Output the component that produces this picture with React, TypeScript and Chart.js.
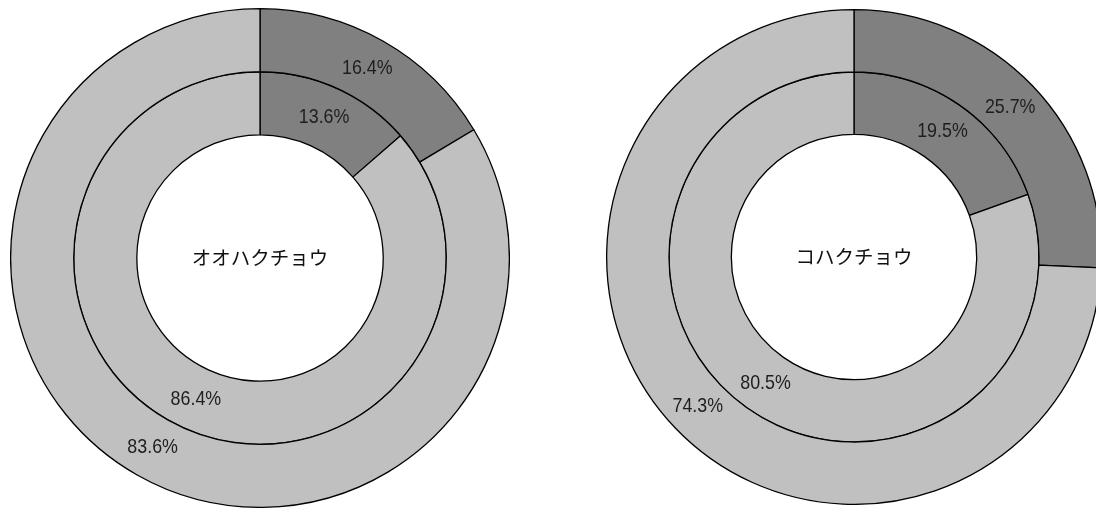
import React, { useEffect, useRef } from "react";
import { Chart, registerables } from "chart.js";

Chart.register(...registerables);

const categories = ["該当", "非該当"];
const leftTitle = "オオハクチョウ";
const leftOuter = [16.4, 83.6];
const leftInner = [13.6, 86.4];
const rightTitle = "コハクチョウ";
const rightOuter = [25.7, 74.3];
const rightInner = [19.5, 80.5];

const DARK = "#808080";
const LIGHT = "#c0c0c0";
const LABEL_FONT = '21px "Liberation Sans", Arial, sans-serif';
const TITLE_FONT = '19.5px "Noto Sans CJK JP", sans-serif';

type DonutProps = {
  title: string;
  outer: number[];
  inner: number[];
  left: number;
  top: number;
  size: number;
  cutout: string;
};

function Donut({ title, outer, inner, left, top, size, cutout }: DonutProps) {
  const ref = useRef<HTMLCanvasElement | null>(null);
  useEffect(() => {
    if (!ref.current) return;
    const labelPlugin = {
      id: "ringLabels",
      afterDatasetsDraw(chart: any) {
        const ctx = chart.ctx;
        ctx.save();
        ctx.fillStyle = "#1e1e1e";
        ctx.font = LABEL_FONT;
        ctx.textAlign = "center";
        ctx.textBaseline = "middle";
        chart.data.datasets.forEach((ds: any, di: number) => {
          const meta = chart.getDatasetMeta(di);
          meta.data.forEach((arc: any, i: number) => {
            const p = arc.tooltipPosition();
            ctx.save();
            ctx.translate(p.x, p.y);
            ctx.scale(0.85, 1);
            ctx.fillText(ds.data[i].toFixed(1) + "%", 0, 0);
            ctx.restore();
          });
        });
        const a = chart.chartArea;
        ctx.font = TITLE_FONT;
        ctx.fillStyle = "#111";
        ctx.fillText(title, (a.left + a.right) / 2, (a.top + a.bottom) / 2);
        ctx.restore();
      },
    };
    const chart = new Chart(ref.current, {
      type: "doughnut",
      data: {
        labels: categories,
        datasets: [
          { data: outer, backgroundColor: [DARK, LIGHT], borderColor: "#000", borderWidth: 1.3 },
          { data: inner, backgroundColor: [DARK, LIGHT], borderColor: "#000", borderWidth: 1.3 },
        ],
      },
      options: {
        responsive: false,
        animation: false,
        cutout,
        layout: { padding: 0 },
        plugins: { legend: { display: false }, tooltip: { enabled: false } },
      },
      plugins: [labelPlugin],
    });
    return () => chart.destroy();
  }, []);
  return (
    <canvas
      ref={ref}
      width={size}
      height={size}
      style={{ position: "absolute", left, top, width: size, height: size }}
    />
  );
}

export default function App() {
  return (
    <div
      style={{
        position: "fixed",
        left: 0,
        top: 0,
        width: 1096,
        height: 509,
        overflow: "hidden",
        background: "#fff",
      }}
    >
      <Donut title={leftTitle} outer={leftOuter} inner={leftInner} left={10} top={8} size={500} cutout="49.4%" />
      <Donut title={rightTitle} outer={rightOuter} inner={rightInner} left={606} top={9} size={496} cutout="49.6%" />
    </div>
  );
}
